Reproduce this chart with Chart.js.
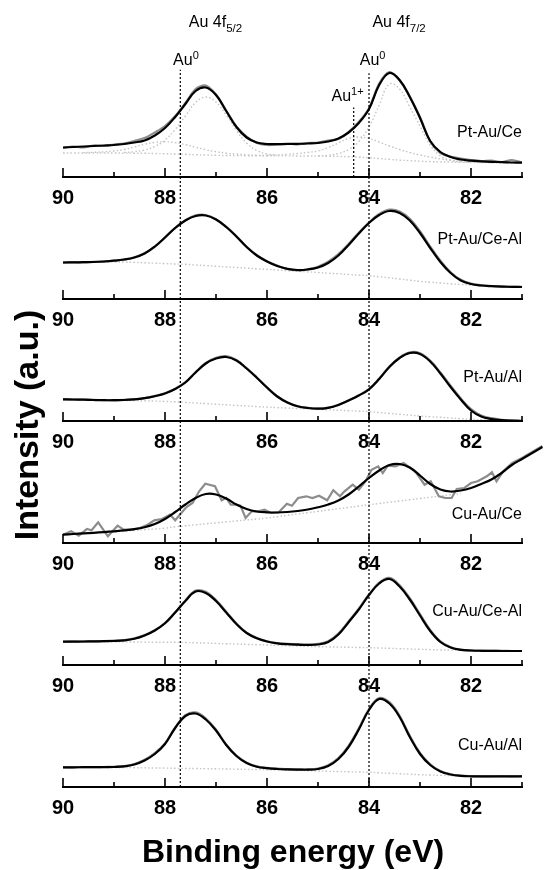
<!DOCTYPE html>
<html>
<head>
<meta charset="utf-8">
<script src="https://cdn.jsdelivr.net/npm/chart.js@4.4.1/dist/chart.umd.min.js"></script>
<style>
html,body{margin:0;padding:0;background:#fff;}
canvas{display:block;}
</style>
</head>
<body>
<canvas id="c" width="545" height="870" style="width:545px;height:870px"></canvas>
<script>
// ---------- DATA ----------
const energies = [90.0, 89.8, 89.6, 89.4, 89.2, 89.0, 88.8, 88.6, 88.4, 88.2, 88.0, 87.8, 87.6, 87.4, 87.2, 87.0, 86.8, 86.6, 86.4, 86.2, 86.0, 85.8, 85.6, 85.4, 85.2, 85.0, 84.8, 84.6, 84.4, 84.2, 84.0, 83.8, 83.6, 83.4, 83.2, 83.0, 82.8, 82.6, 82.4, 82.2, 82.0, 81.8, 81.6, 81.4, 81.2, 81.0, 80.8, 80.6];

const panelNames = ['Pt-Au/Ce', 'Pt-Au/Ce-Al', 'Pt-Au/Al', 'Cu-Au/Ce', 'Cu-Au/Ce-Al', 'Cu-Au/Al'];

const majorTicks = [90, 88, 86, 84, 82];
const tickLabels = ['90', '88', '86', '84', '82'];
const minorTicks = [89, 87, 85, 83, 81];

// Pt-Au/Ce
const fit1 = [29.5, 30.0, 30.5, 31.0, 31.5, 32.0, 33.0, 34.5, 36.5, 41.5, 49.0, 60.0, 73.0, 86.0, 89.5, 82.0, 66.0, 50.0, 39.5, 34.5, 33.0, 32.8, 33.0, 33.2, 33.5, 34.0, 35.5, 38.5, 44.5, 54.0, 68.0, 92.0, 104.0, 97.0, 80.0, 59.0, 36.0, 25.0, 20.0, 17.5, 16.3, 15.7, 15.2, 14.8, 14.5, 14.3];
const exp1 = [29.0, 30.5, 29.5, 31.5, 31.0, 32.5, 33.5, 36.0, 39.0, 44.5, 51.0, 61.0, 74.0, 88.0, 91.5, 82.5, 66.5, 50.5, 40.5, 34.0, 32.0, 32.5, 33.5, 32.5, 34.0, 34.5, 36.5, 38.0, 45.0, 55.0, 68.5, 93.5, 105.0, 96.5, 80.5, 60.0, 35.5, 24.0, 20.5, 18.5, 17.0, 16.0, 16.5, 15.0, 17.0, 14.5];
const bg1 = [24.0, 24.0, 24.0, 24.0, 24.0, 24.0, 23.9, 23.8, 23.7, 23.5, 23.3, 23.0, 22.7, 22.3, 22.0, 21.7, 21.5, 21.4, 21.3, 21.2, 21.2, 21.1, 21.1, 21.0, 21.0, 20.9, 20.8, 20.6, 20.3, 19.8, 19.2, 18.4, 17.6, 16.9, 16.3, 15.8, 15.4, 15.1, 14.9, 14.7, 14.5, 14.4, 14.3, 14.2, 14.1, 14.0];
const au0f52 = [null, null, null, null, null, null, 24.5, 25.3, 27.0, 30.5, 37.0, 47.5, 61.0, 74.5, 80.0, 75.0, 62.0, 46.5, 34.0, 26.5, 23.0, 21.8];
const au0f72 = [null, null, null, null, null, null, null, null, null, null, null, null, null, null, null, null, null, null, null, null, null, null, null, null, null, 21.2, 21.8, 23.5, 27.5, 35.5, 50.0, 72.0, 93.0, 88.0, 70.0, 51.0, 32.0, 21.0, 16.8, 15.2, 14.7];
const au1f52 = [null, null, 24.4, 24.7, 25.2, 26.0, 27.5, 30.0, 32.8, 34.6, 35.2, 34.4, 32.3, 29.8, 27.3, 25.3, 23.9, 22.9, 22.2, 21.7, 21.4];
const au1f72 = [null, null, null, null, null, null, null, null, null, null, null, null, null, null, null, null, null, null, null, null, 21.6, 22.0, 22.6, 23.5, 24.6, 26.0, 29.5, 34.0, 38.5, 40.0, 38.5, 35.0, 31.0, 27.5, 24.5, 22.0, 20.0, 18.0, 16.7, 15.8, 15.2, 14.8, 14.5];

// Pt-Au/Ce-Al
const fit2 = [36.5, 36.6, 36.8, 37.0, 37.5, 38.3, 39.5, 41.5, 45.5, 52.5, 61.5, 71.0, 78.5, 83.0, 83.5, 79.5, 72.0, 62.5, 52.0, 43.5, 37.5, 33.0, 30.2, 29.0, 29.5, 31.5, 36.0, 43.5, 54.0, 65.5, 76.0, 84.0, 88.0, 86.0, 78.5, 66.0, 51.0, 37.0, 26.0, 18.5, 15.0, 13.5, 12.8, 12.4, 12.2, 12.0];
const exp2 = [36.3, 36.8, 36.6, 37.2, 37.4, 38.5, 39.3, 41.8, 45.8, 52.2, 61.8, 71.2, 78.8, 83.6, 84.0, 79.8, 72.3, 62.8, 52.3, 43.8, 37.8, 33.4, 30.0, 28.6, 29.8, 32.3, 37.2, 44.8, 55.0, 66.2, 76.5, 85.0, 89.3, 87.6, 80.2, 67.8, 52.4, 38.2, 26.8, 19.2, 15.4, 13.8, 13.0, 12.6, 12.2, 12.1];
const bg2 = [36.5, 36.6, 36.8, 37.0, 37.1, 37.1, 36.9, 36.6, 36.2, 35.8, 35.4, 35.0, 34.7, 34.0, 33.4, 32.8, 32.1, 31.5, 30.9, 30.2, 29.6, 29.0, 28.3, 27.7, 27.1, 26.5, 25.8, 25.2, 24.6, 23.9, 23.3, 22.2, 21.1, 20.0, 18.8, 17.7, 16.8, 16.0, 15.2, 14.5, 14.0, 13.4, 12.9, 12.4, 12.2, 12.0];

// Pt-Au/Al
const fit3 = [21.7, 21.5, 21.3, 21.0, 20.8, 20.8, 21.0, 21.6, 22.8, 24.8, 27.5, 32.0, 38.5, 48.5, 57.5, 62.5, 64.0, 60.5, 52.5, 43.3, 33.5, 24.5, 18.5, 14.8, 13.0, 12.3, 13.2, 16.0, 20.5, 25.5, 31.7, 42.0, 54.0, 63.0, 68.0, 67.0, 59.5, 47.5, 34.0, 21.5, 10.5, 4.5, 2.0, 0.8, 0.3, 0.0];
const exp3 = [21.9, 21.3, 21.5, 21.1, 20.9, 20.6, 21.2, 21.8, 22.9, 25.1, 27.8, 32.3, 38.8, 48.9, 58.0, 63.2, 64.8, 61.0, 52.8, 43.5, 33.6, 24.8, 18.6, 14.7, 13.2, 12.4, 13.4, 16.2, 20.6, 25.8, 32.0, 42.4, 54.5, 63.6, 68.7, 67.8, 60.4, 48.5, 35.2, 22.6, 11.8, 5.6, 2.8, 1.2, 0.5, 0.2];
const bg3 = [21.7, 21.5, 21.3, 21.0, 20.8, 20.7, 20.6, 20.4, 20.2, 19.9, 19.6, 19.2, 18.6, 18.0, 17.4, 16.8, 16.2, 15.6, 15.0, 14.4, 13.9, 13.4, 12.9, 12.5, 12.1, 11.7, 11.2, 10.8, 10.3, 9.8, 9.3, 8.4, 7.6, 6.7, 5.9, 5.0, 4.3, 3.7, 3.0, 2.3, 1.7, 1.2, 0.7, 0.3, 0.1, 0.0];

// Cu-Au/Ce (noisy spectrum, own energy points)
const fit4 = [8.3, 9.0, 9.6, 10.2, 10.9, 11.7, 12.6, 13.8, 15.8, 19.0, 24.0, 31.0, 38.5, 45.0, 49.0, 48.5, 44.5, 38.5, 34.0, 31.5, 30.7, 30.5, 31.0, 32.0, 33.5, 35.7, 38.5, 42.5, 48.5, 56.5, 65.0, 72.5, 78.0, 79.0, 75.5, 67.5, 59.0, 53.5, 51.5, 52.5, 55.0, 59.0, 63.5, 70.0, 78.0, 84.0, 90.0, 96.0];
const exp4Energies = [90.00, 89.84, 89.69, 89.53, 89.44, 89.31, 89.12, 88.93, 88.81, 88.65, 88.49, 88.34, 88.21, 88.06, 87.90, 87.80, 87.71, 87.58, 87.46, 87.33, 87.21, 87.02, 86.89, 86.80, 86.71, 86.61, 86.52, 86.42, 86.30, 86.17, 86.05, 85.92, 85.77, 85.61, 85.51, 85.39, 85.23, 85.11, 84.98, 84.82, 84.70, 84.57, 84.48, 84.32, 84.20, 84.07, 83.95, 83.82, 83.73, 83.63, 83.48, 83.32, 83.19, 83.07, 82.91, 82.79, 82.63, 82.50, 82.38, 82.28, 82.13, 82.00, 81.87, 81.69, 81.59, 81.50, 81.37, 81.19, 81.00, 80.80, 80.60];
const exp4 = [8.3, 11.7, 7.3, 14.0, 12.7, 20.7, 6.7, 17.3, 13.3, 13.3, 15.0, 18.3, 22.7, 24.0, 28.3, 22.7, 28.3, 36.0, 40.0, 51.7, 59.3, 56.7, 42.7, 45.0, 38.3, 38.3, 37.3, 25.0, 31.7, 31.7, 33.3, 30.0, 30.7, 39.3, 37.3, 45.0, 46.7, 45.0, 47.3, 42.7, 52.7, 46.7, 51.7, 58.3, 53.3, 61.7, 73.3, 76.7, 70.0, 77.3, 76.7, 80.0, 75.0, 70.0, 58.3, 61.7, 46.7, 45.0, 45.0, 54.0, 55.0, 60.0, 61.7, 66.7, 70.7, 61.7, 71.7, 80.0, 85.0, 91.0, 97.0];
const bg4 = [8.3, 8.8, 9.4, 10.0, 10.6, 11.2, 11.9, 12.6, 13.3, 14.0, 14.8, 16.2, 17.2, 18.2, 19.2, 20.1, 21.1, 22.1, 23.0, 24.0, 25.0, 26.3, 27.7, 29.0, 30.3, 31.6, 33.0, 34.3, 35.6, 37.0, 38.3, 39.5, 40.8, 42.0, 43.3, 44.5, 45.8, 47.0, 48.3, 49.5];

// Cu-Au/Ce-Al
const fit5 = [23.3, 23.4, 23.5, 23.6, 23.8, 24.0, 24.6, 26.2, 29.5, 34.5, 41.7, 52.5, 64.0, 73.5, 72.0, 64.0, 52.5, 41.0, 32.0, 26.7, 23.5, 21.7, 20.8, 20.3, 20.0, 20.5, 23.0, 30.5, 42.8, 55.5, 70.0, 81.5, 86.0, 78.5, 65.5, 49.5, 34.0, 23.0, 17.5, 15.2, 14.5, 14.2, 14.1, 14.0, 14.0, 14.0];
const exp5 = [23.1, 23.6, 23.4, 23.7, 23.9, 24.3, 24.9, 26.6, 29.9, 34.8, 41.9, 52.8, 64.6, 74.4, 73.2, 65.0, 53.2, 41.5, 32.4, 27.1, 23.8, 22.0, 21.2, 20.8, 20.6, 21.2, 23.8, 31.4, 43.6, 56.3, 70.6, 82.4, 87.2, 79.8, 66.8, 50.8, 35.0, 23.6, 17.8, 15.4, 14.6, 14.3, 14.2, 14.1, 14.0, 14.0];
const bg5 = [23.3, 23.3, 23.3, 23.3, 23.3, 23.2, 23.1, 23.0, 22.9, 22.8, 22.8, 22.7, 22.5, 22.2, 21.9, 21.6, 21.3, 21.0, 20.6, 20.3, 20.0, 19.7, 19.3, 19.0, 18.6, 18.3, 18.1, 17.9, 17.7, 17.5, 17.3, 17.0, 16.7, 16.3, 16.0, 15.7, 15.4, 15.1, 14.9, 14.6, 14.3, 14.2, 14.1, 14.0, 14.0, 14.0];

// Cu-Au/Al
const fit6 = [19.7, 19.7, 19.8, 19.8, 19.9, 20.0, 20.6, 22.5, 26.5, 33.0, 43.0, 59.0, 71.0, 73.5, 67.5, 56.5, 42.0, 31.0, 24.0, 20.3, 18.8, 18.0, 17.6, 17.4, 17.3, 18.0, 21.0, 28.0, 40.0, 57.5, 77.0, 88.0, 83.5, 70.0, 50.0, 33.0, 22.0, 15.5, 12.5, 11.2, 10.7, 10.6, 10.6, 10.7, 10.7, 10.7];
const exp6 = [19.8, 19.6, 19.9, 19.8, 20.0, 20.2, 20.9, 23.0, 27.2, 33.8, 43.6, 59.6, 71.8, 74.6, 68.5, 57.2, 42.6, 31.4, 24.4, 20.6, 19.1, 18.3, 17.9, 17.7, 17.7, 18.5, 21.8, 29.0, 41.2, 58.6, 78.0, 89.0, 84.8, 71.2, 51.2, 34.0, 22.6, 15.9, 12.8, 11.4, 10.9, 10.7, 10.7, 10.8, 10.7, 10.8];
const bg6 = [19.7, 19.7, 19.7, 19.7, 19.6, 19.5, 19.4, 19.3, 19.1, 19.0, 18.9, 18.7, 18.6, 18.5, 18.3, 18.2, 18.0, 17.8, 17.6, 17.5, 17.3, 17.0, 16.8, 16.5, 16.3, 16.0, 15.7, 15.5, 15.2, 15.0, 14.7, 14.2, 13.7, 13.3, 12.8, 12.3, 12.0, 11.7, 11.4, 11.0, 10.7, 10.7, 10.7, 10.7, 10.7, 10.7];

// Reference lines (binding energies of Au0 / Au1+), extent in stacked-panel units
const refLineE = [87.7, 84.0, 84.3];
const refLineFrom = [0, 0, 5];
const refLineTo = [5.88, 5.85, 5.57];

// ---------- LAYOUT / STYLE ----------
const FF = '"Liberation Sans", Arial, Helvetica, sans-serif';
const panelIds = ['p1', 'p2', 'p3', 'p4', 'p5', 'p6'];
const panelLabelH = [44, 59, 43, 28, 53, 41];
const PANEL_MAX = 122;

function pts(vals, es) {
  const out = [];
  vals.forEach((v, i) => { if (v !== null && v !== undefined) out.push({x: es[i], y: v}); });
  return out;
}
function dotted(vals, axis) {
  return {data: pts(vals, energies), yAxisID: axis, borderColor: '#c4c4c4', borderWidth: 1.4,
    borderDash: [1.5, 2.2], tension: 0.4, pointRadius: 0, order: 5};
}
function expLine(vals, es, axis, tension, clip) {
  const d = {data: pts(vals, es), yAxisID: axis, borderColor: '#8c8c8c', borderWidth: 2.2,
    tension: tension, pointRadius: 0, order: 3};
  if (clip === false) d.clip = false;
  return d;
}
function fitLine(vals, axis, clip) {
  const d = {data: pts(vals, energies), yAxisID: axis, borderColor: '#000', borderWidth: 2.2,
    tension: 0.4, pointRadius: 0, order: 2};
  if (clip === false) d.clip = false;
  return d;
}

const datasets = [];
[bg1, au0f52, au0f72, au1f52, au1f72].forEach(v => datasets.push(dotted(v, 'p1')));
datasets.push(expLine(exp1, energies, 'p1', 0.3));
datasets.push(fitLine(fit1, 'p1'));
datasets.push(dotted(bg2, 'p2'));
datasets.push(expLine(exp2, energies, 'p2', 0.4));
datasets.push(fitLine(fit2, 'p2'));
datasets.push(dotted(bg3, 'p3'));
datasets.push(expLine(exp3, energies, 'p3', 0.4));
datasets.push(fitLine(fit3, 'p3'));
datasets.push(dotted(bg4, 'p4'));
datasets.push(expLine(exp4, exp4Energies, 'p4', 0, false));
datasets.push(fitLine(fit4, 'p4', false));
datasets.push(dotted(bg5, 'p5'));
datasets.push(expLine(exp5, energies, 'p5', 0.4));
datasets.push(fitLine(fit5, 'p5'));
datasets.push(dotted(bg6, 'p6'));
datasets.push(expLine(exp6, energies, 'p6', 0.4));
datasets.push(fitLine(fit6, 'p6'));
refLineE.forEach((e, i) => {
  datasets.push({data: [{x: e, y: refLineFrom[i]}, {x: e, y: refLineTo[i]}], yAxisID: 'yAll',
    borderColor: '#000', borderWidth: 1.2, borderDash: [2, 2], pointRadius: 0, tension: 0, order: 0});
});

const scales = {
  x: {type: 'linear', min: 81, max: 90, reverse: true, display: false}
};
panelIds.forEach((id, k) => {
  scales[id] = {type: 'linear', position: 'left', stack: 'panels', stackWeight: 1, weight: 6 - k,
    min: 0, max: PANEL_MAX, display: false};
});
scales.yAll = {type: 'linear', position: 'left', min: 0, max: 6, display: false, weight: -1};

function rich(ctx, parts, cx, base) {
  let w = 0;
  parts.forEach(p => { ctx.font = p.f; w += ctx.measureText(p.t).width; });
  let x = cx - w / 2;
  parts.forEach(p => { ctx.font = p.f; ctx.fillText(p.t, x, base + p.dy); x += ctx.measureText(p.t).width; });
}

const annotations = [
  {e: 87.01, base: 27, parts: [{t: 'Au 4f', f: '16px ' + FF, dy: 0}, {t: '5/2', f: '11.5px ' + FF, dy: 4.5}]},
  {e: 83.41, base: 27, parts: [{t: 'Au 4f', f: '16px ' + FF, dy: 0}, {t: '7/2', f: '11.5px ' + FF, dy: 4.5}]},
  {e: 87.59, base: 65, parts: [{t: 'Au', f: '16px ' + FF, dy: 0}, {t: '0', f: '11px ' + FF, dy: -6.5}]},
  {e: 83.93, base: 65, parts: [{t: 'Au', f: '16px ' + FF, dy: 0}, {t: '0', f: '11px ' + FF, dy: -6.5}]},
  {e: 84.42, base: 101, parts: [{t: 'Au', f: '16px ' + FF, dy: 0}, {t: '1+', f: '11px ' + FF, dy: -6.5}]}
];

const axesPlugin = {
  id: 'panelAxes',
  afterDraw(chart) {
    const ctx = chart.ctx, xs = chart.scales.x;
    ctx.save();
    ctx.fillStyle = '#000';
    ctx.strokeStyle = '#000';
    const xl = xs.getPixelForValue(90), xr = xs.getPixelForValue(81);
    panelIds.forEach((id, k) => {
      const ys = chart.scales[id];
      const y0 = Math.round(ys.getPixelForValue(0));
      ctx.lineWidth = 2;
      ctx.beginPath();
      ctx.moveTo(xl - 1, y0); ctx.lineTo(xr + 1, y0);
      ctx.stroke();
      ctx.lineWidth = 1.6;
      ctx.beginPath();
      majorTicks.forEach(v => { const px = xs.getPixelForValue(v); ctx.moveTo(px, y0); ctx.lineTo(px, y0 - 9); });
      minorTicks.forEach(v => { const px = xs.getPixelForValue(v); ctx.moveTo(px, y0); ctx.lineTo(px, y0 - 5); });
      ctx.stroke();
      ctx.font = 'bold 20px ' + FF;
      ctx.textAlign = 'center';
      ctx.textBaseline = 'middle';
      majorTicks.forEach((v, i) => ctx.fillText(tickLabels[i], xs.getPixelForValue(v), y0 + 21));
      ctx.font = '16px ' + FF;
      ctx.textAlign = 'right';
      ctx.fillText(panelNames[k], xr, ys.getPixelForValue(panelLabelH[k]));
    });
    ctx.textAlign = 'left';
    ctx.textBaseline = 'alphabetic';
    annotations.forEach(a => rich(ctx, a.parts, xs.getPixelForValue(a.e), a.base));
    ctx.font = 'bold 32px ' + FF;
    ctx.textAlign = 'center';
    ctx.fillText('Binding energy (eV)', 293, 862);
    ctx.save();
    ctx.translate(38, 425);
    ctx.rotate(-Math.PI / 2);
    ctx.font = 'bold 34px ' + FF;
    ctx.fillText('Intensity (a.u.)', 0, 0);
    ctx.restore();
    ctx.restore();
  }
};

new Chart(document.getElementById('c'), {
  type: 'line',
  data: {datasets: datasets},
  options: {
    responsive: false,
    animation: false,
    devicePixelRatio: 1,
    layout: {padding: {left: 63, right: 23, top: 55, bottom: 83}},
    plugins: {legend: {display: false}, tooltip: {enabled: false}},
    scales: scales
  },
  plugins: [axesPlugin]
});
</script>
</body>
</html>
